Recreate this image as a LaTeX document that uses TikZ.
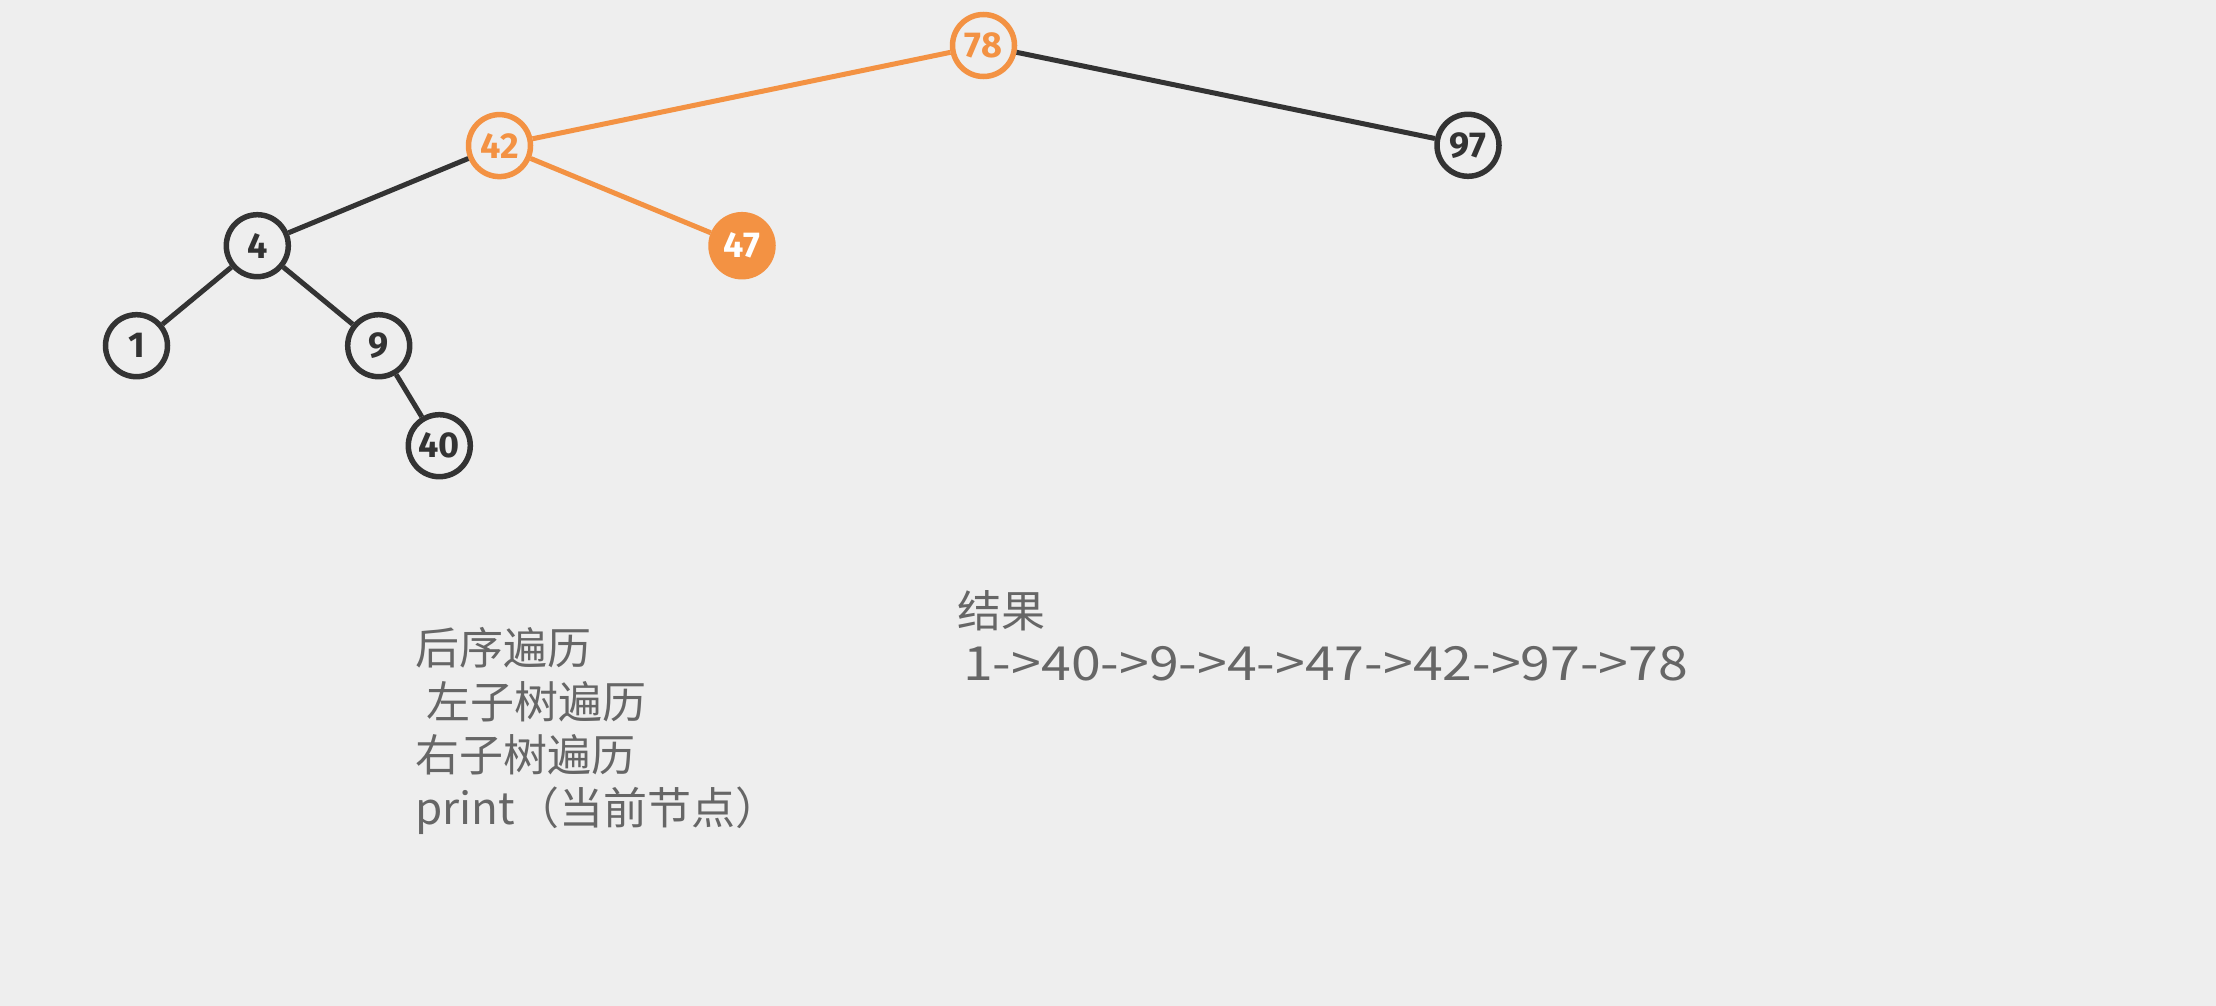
\documentclass[tikz,border=0pt]{standalone}
\usepackage{fontspec}
\setmainfont{Noto Sans CJK SC}
\newfontfamily\numfont{Fira Sans}
\definecolor{bgc}{HTML}{EEEEEE}
\definecolor{orng}{HTML}{F39243}
\definecolor{dark}{HTML}{333333}
\definecolor{txt}{HTML}{666666}
\begin{document}
\begin{tikzpicture}[x=1pt,y=-1pt,
  tn/.style={circle,minimum size=62pt,inner sep=0pt,line width=5.5pt,draw=dark,fill=bgc,text=dark,font=\numfont\fontsize{36}{40}\selectfont\bfseries},
  hot/.style={draw=orng,text=orng},
  done/.style={draw=orng,fill=orng,text=white},
  edge/.style={line width=5pt,draw=dark},
  hedge/.style={line width=5pt,draw=orng},
  lbl/.style={anchor=base west,inner sep=0pt,text=txt,font=\fontsize{44}{53}\selectfont}]
\fill[bgc] (0,0) rectangle (2216,1006);
\useasboundingbox (0,0) rectangle (2216,1006);
\node[tn,hot] (n78) at (983.5,45.5) {78};
\node[tn,hot] (n42) at (499.5,145.6) {42};
\node[tn] (n97) at (1468,145.3) {97};
\node[tn] (n4) at (257.3,245.7) {4};
\node[tn,done] (n47) at (742,245.7) {47};
\node[tn] (n1) at (136.5,345.7) {1};
\node[tn] (n9) at (378.7,345.7) {9};
\node[tn] (n40) at (439.3,445.7) {40};
\draw[hedge] (n78) -- (n42);
\draw[hedge] (n42) -- (n47);
\draw[edge] (n78) -- (n97);
\draw[edge] (n42) -- (n4);
\draw[edge] (n4) -- (n1);
\draw[edge] (n4) -- (n9);
\draw[edge] (n9) -- (n40);
\node[lbl] (t1) at (415,664) {后序遍历};
\node[lbl] (t2) at (415,718) {\hspace*{11pt}左子树遍历};
\node[lbl] (t3) at (415,771) {右子树遍历};
\node[lbl] (t4) at (415,824) {print（当前节点）};
\node[lbl] (r1) at (957,627) {结果};
\node[lbl] (r2) at (957,680) {\hspace*{6pt}\fontsize{47}{53}\selectfont\scalebox{1.14}[1]{1->40->9->4->47->42->97->78}};
\end{tikzpicture}
\end{document}
